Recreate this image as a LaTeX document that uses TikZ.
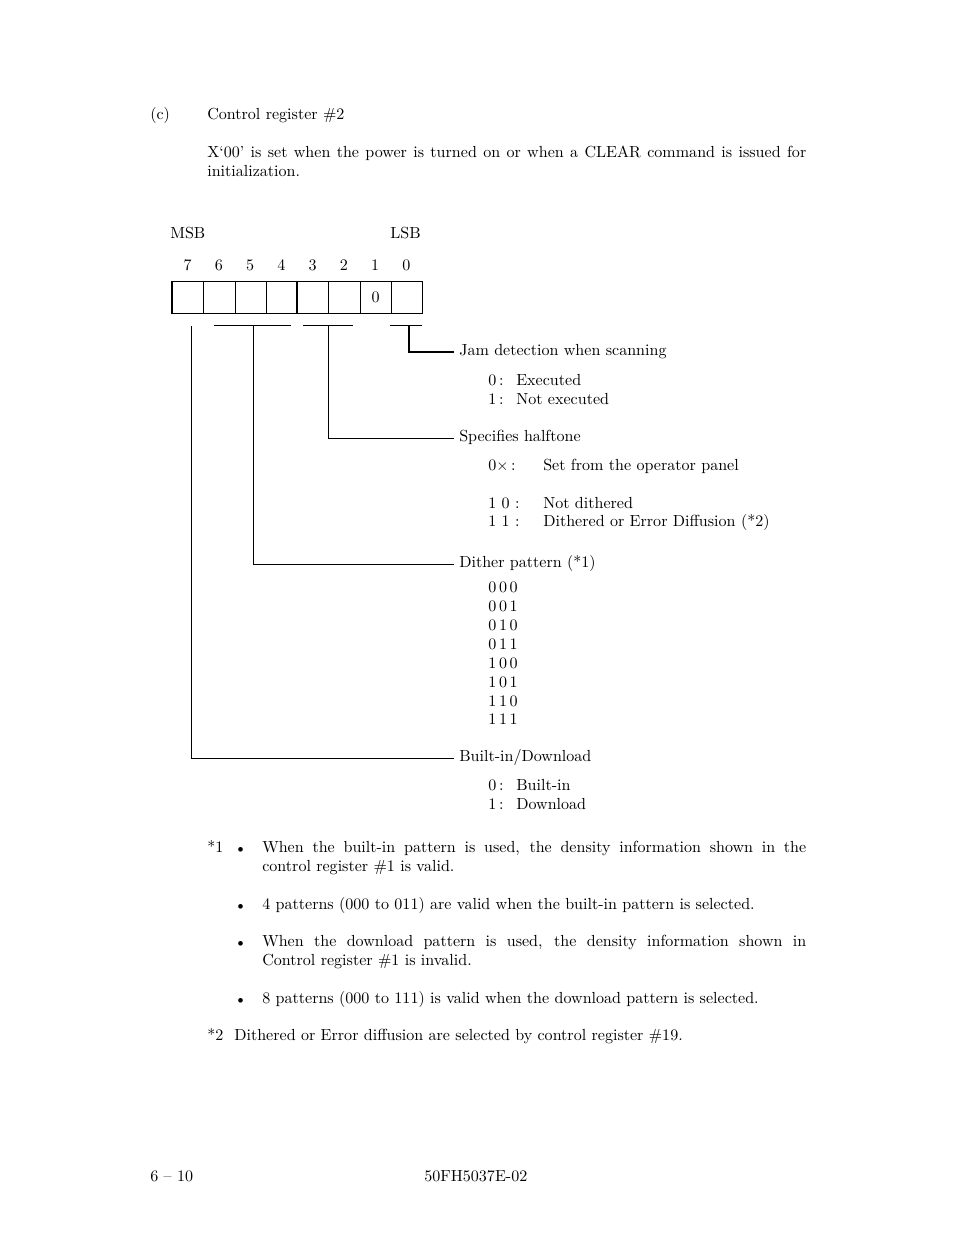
\documentclass[tikz,border=0pt]{standalone}
\newlength\px
\setlength\px{0.6415pt}
\newcommand\myfont{\fontsize{10.3}{12.4}\selectfont}
\tikzset{
  txt/.style={anchor=west, inner sep=0pt, font=\myfont, yshift=-2\px},
  lab/.style={anchor=west, inner xsep=5\px, inner ysep=0pt, font=\myfont},
  cell/.style={draw, line width=0.6pt, minimum width=31.25\px, minimum height=32\px, inner sep=0pt, anchor=north west, font=\myfont},
  wire/.style={line width=0.6pt},
  boldwire/.style={line width=1.2pt},
}
\newcommand\jl[2]{\makebox[#1\px][s]{#2}}
\begin{document}
\begin{tikzpicture}[x=\px, y=-\px]
\useasboundingbox (0,0) rectangle (954,1235);
% heading
\node[txt] (c) at (150,114) {\strut(c)};
\node[txt] (title) at (207,114) {\strut Control register \#2};
\node[txt] (p1) at (207,152) {\strut\jl{599}{X`00' is set when the power is turned on or when a CLEAR command is issued for}};
\node[txt] (p2) at (207,171) {\strut initialization.};
% MSB / LSB
\node[txt] (msb) at (170,233) {\strut MSB};
\node[txt] (lsb) at (390,233) {\strut LSB};
% bit numbers
\foreach \b/\i in {7/0,6/1,5/2,4/3,3/4,2/5,1/6,0/7}{
  \node[inner sep=0pt, font=\myfont, yshift=-2\px] (n\b) at ({187.6+31.25*\i},265) {\strut\b};
}
% cells
\foreach \b/\i in {7/0,6/1,5/2,4/3,3/4,2/5,1/6,0/7}{
  \node[cell] (r\b) at ({172+31.25*\i},281) {};
}
\node[inner sep=0pt, font=\myfont] at (r1.center) {0};
\draw[line width=1.3pt] (r7.north west) -- (r7.south west);
\draw[line width=1.3pt] (r3.north west) -- (r3.south west);
% brackets
\coordinate (b7) at (191,326);
\draw[wire] (214,325) -- (291,325);
\coordinate (b64) at (253,325);
\draw[wire] (303,325) -- (353,325);
\coordinate (b32) at (328,325);
\draw[wire] (390,325) -- (422,325);
\coordinate (b0) at (409,325);
% labels
\node[lab] (jam) at (454,352) {\strut Jam detection when scanning};
\node[lab] (half) at (454,438) {\strut Specifies halftone};
\node[lab] (dith) at (454,564) {\strut Dither pattern (*1)};
\node[lab] (bid) at (454,758) {\strut Built-in/Download};
\draw[boldwire] (b0) |- (jam.west);
\draw[wire] (b32) |- (half.west);
\draw[wire] (b64) |- (dith.west);
\draw[wire] (b7) |- (bid.west);
% jam values
\node[txt] (j0) at (488,380) {\strut 0\,:};
\node[txt] (j0t) at (516,380) {\strut Executed};
\node[txt] (j1) at (488,399) {\strut 1\,:};
\node[txt] (j1t) at (516,399) {\strut Not executed};
% halftone values
\node[txt] (h0) at (488,465) {\strut 0$\times$\,:};
\node[txt] (h0t) at (543,465) {\strut Set from the operator panel};
\node[txt] (h1) at (488,503) {\strut 1\,\,0\,\,:};
\node[txt] (h1t) at (543,503) {\strut Not dithered};
\node[txt] (h2) at (488,521) {\strut 1\,\,1\,\,:};
\node[txt] (h2t) at (543,521) {\strut Dithered or Error Diffusion (*2)};
% dither values
\foreach \v [count=\k from 0] in {0\,0\,0,0\,0\,1,0\,1\,0,0\,1\,1,1\,0\,0,1\,0\,1,1\,1\,0,1\,1\,1}{
  \node[txt] (d\k) at (488,{587+18.86*\k}) {\strut\v};
}
% built-in values
\node[txt] (bi0) at (488,785) {\strut 0\,:};
\node[txt] (bi0t) at (516,785) {\strut Built-in};
\node[txt] (bi1) at (488,804) {\strut 1\,:};
\node[txt] (bi1t) at (516,804) {\strut Download};
% notes
\node[txt] (s1) at (207,847) {\strut *1};
\node[txt] (u1) at (234,848) {\strut\textbullet};
\node[txt] (t1a) at (262,847) {\strut\jl{544}{When the built-in pattern is used, the density information shown in the}};
\node[txt] (t1b) at (262,866) {\strut control register \#1 is valid.};
\node[txt] (u2) at (234,905) {\strut\textbullet};
\node[txt] (t2) at (262,904) {\strut 4 patterns (000 to 011) are valid when the built-in pattern is selected.};
\node[txt] (u3) at (234,942) {\strut\textbullet};
\node[txt] (t3a) at (262,941) {\strut\jl{544}{When the download pattern is used, the density information shown in}};
\node[txt] (t3b) at (262,960) {\strut Control register \#1 is invalid.};
\node[txt] (u4) at (234,999) {\strut\textbullet};
\node[txt] (t4) at (262,998) {\strut 8 patterns (000 to 111) is valid when the download pattern is selected.};
\node[txt] (s2) at (207,1035) {\strut *2};
\node[txt] (t5) at (234,1035) {\strut Dithered or Error diffusion are selected by control register \#19.};
% footer
\node[txt] (pg) at (150,1176) {\strut 6 -- 10};
\node[txt] (doc) at (424,1176) {\strut 50FH5037E-02};
\end{tikzpicture}
\end{document}
